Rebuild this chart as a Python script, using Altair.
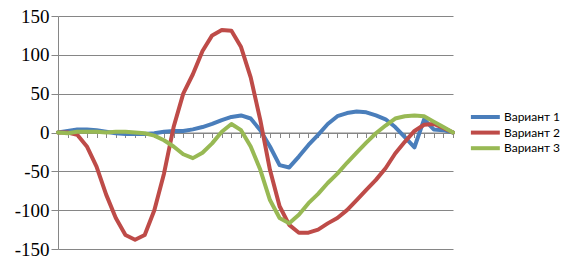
import altair as alt
import pandas as pd

series_names = ["Вариант 1", "Вариант 2", "Вариант 3"]
colors = ["#4A7EBB", "#BE4B48", "#98B954"]

x_idx = list(range(42))

v1 = [0, 2, 4, 4, 3, 1, -1, -2, -2, -2, -1, 1, 2, 2, 4, 7, 11, 16, 20, 22,
      18, 3, -18, -42, -45, -31, -16, -3, 11, 21, 25, 27, 26, 22, 17, 7,
      -6, -19, 17, 4, 3, 0]
v2 = [0, 0, -3, -18, -44, -80, -110, -132, -138, -132, -100, -53, 7, 50, 75,
      105, 125, 132, 131, 110, 71, 16, -48, -95, -119, -129, -129, -125, -117,
      -110, -100, -87, -74, -61, -46, -27, -12, 2, 10, 11, 6, 0]
v3 = [0, -1, 1, 1, 1, 0, 1, 1, 0, -1, -4, -10, -18, -28, -33, -26, -14, 1, 11,
      3, -18, -48, -87, -110, -117, -106, -91, -79, -65, -53, -39, -26, -13, -1,
      9, 18, 21, 22, 21, 14, 7, 0]

y_ticks = [-150, -100, -50, 0, 50, 100, 150]

rows = []
for name, vals in zip(series_names, [v1, v2, v3]):
    for i, v in zip(x_idx, vals):
        rows.append({"x": i, "value": v, "series": name})
df = pd.DataFrame(rows)

chart = alt.Chart(df).mark_line(strokeWidth=4, strokeJoin="round", strokeCap="round").encode(
    x=alt.X("x:Q",
            scale=alt.Scale(domain=[0, 41], nice=False, zero=False),
            axis=alt.Axis(values=x_idx, labels=False, ticks=True, tickSize=5,
                          tickColor="#868686", domainColor="#868686", grid=False,
                          title=None, offset=-116.5, orient="bottom")),
    y=alt.Y("value:Q",
            scale=alt.Scale(domain=[-150, 150], nice=False),
            axis=alt.Axis(values=y_ticks, title=None, labelFont="Liberation Serif",
                          labelFontSize=19, labelColor="#000000", tickColor="#868686",
                          tickSize=7, domainColor="#868686", gridColor="#868686",
                          labelPadding=2, labelExpr="'' + datum.value")),
    color=alt.Color("series:N",
                    scale=alt.Scale(domain=series_names, range=colors),
                    legend=alt.Legend(title=None, orient="none", legendX=430, legendY=94,
                                      symbolType="M-5,0H1", symbolStrokeWidth=4,
                                      symbolSize=93, labelFont="Lato", labelFontSize=12,
                                      labelColor="#000000", labelOffset=2, rowPadding=-0.4)),
    order="x:Q",
).properties(
    width=395, height=233,
    autosize=alt.AutoSizeParams(type="none"),
    padding={"left": 58, "top": 16, "right": 117, "bottom": 16},
).configure_view(stroke=None).configure_axis(gridWidth=1, domainWidth=1, tickWidth=1)

chart.save("out.html", embed_options={"renderer": "svg", "actions": False})
